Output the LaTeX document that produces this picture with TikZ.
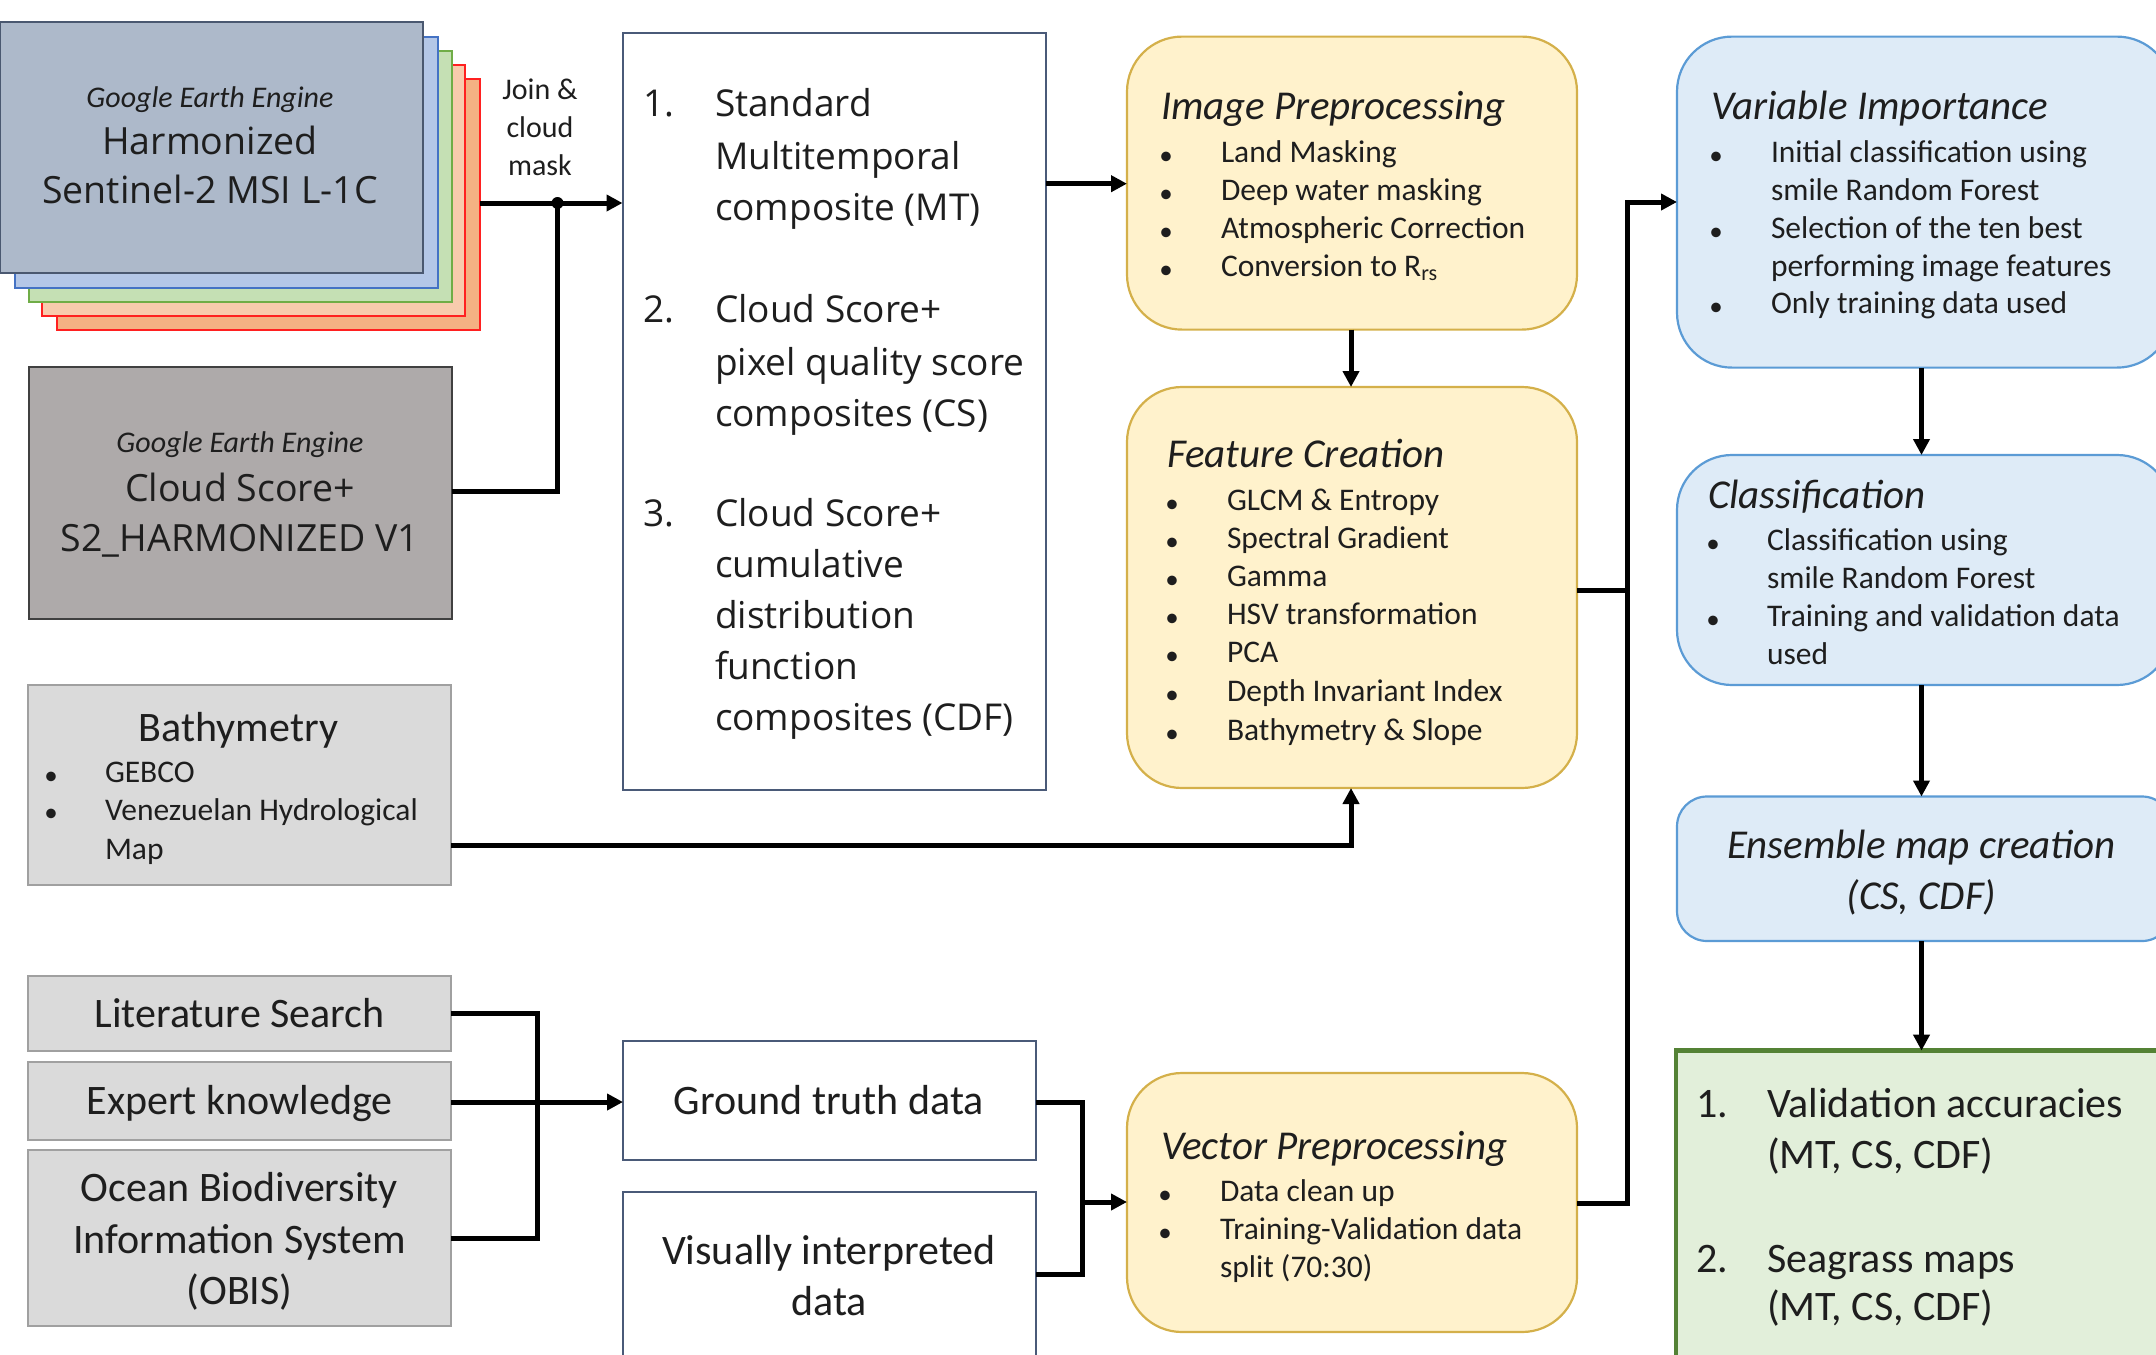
\documentclass[tikz,border=0pt]{standalone}
\usepackage{fontspec}
\setmainfont{Carlito}
\newfontfamily\osans{Open Sans}
\usetikzlibrary{arrows.meta}
\definecolor{ink}{HTML}{1E1E1E}
\definecolor{sttop}{HTML}{ADB9CA}\definecolor{sttopd}{HTML}{4A5870}
\definecolor{lblue}{HTML}{B4C7E7}\definecolor{lblued}{HTML}{4472C4}
\definecolor{lgreen}{HTML}{C5E0B4}\definecolor{lgreend}{HTML}{70AD47}
\definecolor{lpeach}{HTML}{F8CBAD}\definecolor{lorange}{HTML}{F4B183}\definecolor{lred}{HTML}{FF2020}
\definecolor{cloudf}{HTML}{AEAAAA}\definecolor{cloudd}{HTML}{404040}
\definecolor{grayf}{HTML}{DADADA}\definecolor{grayd}{HTML}{A0A0A0}
\definecolor{whited}{HTML}{4A5A78}
\definecolor{yelf}{HTML}{FFF2CC}\definecolor{yeld}{HTML}{D4B04A}
\definecolor{bluef}{HTML}{DEEBF7}\definecolor{blued}{HTML}{5B9BD5}
\definecolor{grnf}{HTML}{E2EFDA}\definecolor{grnd}{HTML}{548235}
\begin{document}
\begin{tikzpicture}[x=1pt,y=-1pt,
  box/.style={inner sep=0pt,outer sep=0pt,anchor=north west,line width=2pt},
  rbox/.style={box,rounded corners=55pt,line width=2.2pt},
  txt/.style={inner sep=0pt,outer sep=0pt,text=ink},
  ftitle/.style={font=\fontsize{41}{50}\selectfont\itshape,text height=28.7pt,text depth=4.1pt},
  flist/.style={font=\fontsize{31.5}{38}\selectfont,text height=22pt,text depth=3.1pt},
  fbul/.style={font=\fontsize{27}{27}\selectfont,text height=23pt,text depth=1pt},
  fbig/.style={font=\fontsize{42}{51}\selectfont,text height=29.4pt,text depth=4.2pt},
  fos/.style={font=\osans\fontsize{37}{51}\selectfont,text height=30pt,text depth=2pt},
  fosb/.style={font=\osans\fontsize{37.5}{51}\selectfont,text height=30pt,text depth=2.6pt},
  fgee/.style={font=\fontsize{30}{38}\selectfont\itshape,text height=21pt,text depth=3pt},
  fjoin/.style={font=\fontsize{30}{38}\selectfont,text height=21pt,text depth=3pt},
  conn/.style={line width=5pt,draw=black},
  arr/.style={conn,-{Triangle[length=16pt,width=16pt]}}
]
\useasboundingbox (0,0) rectangle (2156,1355);
\clip (0,0) rectangle (2156,1355);

% ---------- Sentinel-2 stack ----------
\node[box,fill=lorange,draw=lred,minimum width=423pt,minimum height=251pt] (l4) at (56.5,78.8) {};
\node[box,fill=lpeach,draw=lred,minimum width=423pt,minimum height=251pt] (l3) at (42.3,64.5) {};
\node[box,fill=lgreen,draw=lgreend,minimum width=423pt,minimum height=251pt] (l2) at (28.5,51) {};
\node[box,fill=lblue,draw=lblued,minimum width=423pt,minimum height=251pt] (l1) at (14.6,36.7) {};
\node[box,fill=sttop,draw=sttopd,minimum width=423pt,minimum height=251pt] (s2) at (0,22) {};
\node[txt,fgee] (s2a) at (210,98) {Google Earth Engine};
\node[txt,fosb] (s2b) at (210,141) {Harmonized};
\node[txt,fosb] (s2c) at (210,190) {Sentinel-2 MSI L-1C};

% ---------- Cloud Score+ ----------
\node[box,fill=cloudf,draw=cloudd,minimum width=423pt,minimum height=252pt] (cs) at (28.5,367) {};
\node[txt,fgee] (csa) at (240,443) {Google Earth Engine};
\node[txt,fosb] (csb) at (240,488) {Cloud Score+};
\node[txt,fosb] (csc) at (240,538) {S2\_HARMONIZED V1};

% join label
\node[txt,fjoin] (j1) at (540,90.6) {Join \&};
\node[txt,fjoin] (j2) at (540,128.6) {cloud};
\node[txt,fjoin] (j3) at (540,166.5) {mask};

% ---------- composites box ----------
\node[box,draw=whited,fill=white,minimum width=423pt,minimum height=757pt] (mt) at (622.5,33) {};
\foreach \n/\y/\t in {1/102/{1.},2/308.7/{2.},3/512.8/{3.}}{
  \node[txt,fos,anchor=west] (mtn\n) at (643.6,\y) {\t};}
\foreach \n/\y/\t in {1/102/{Standard},2/155.6/{Multitemporal},3/206.6/{composite (MT)},
  4/308.7/{Cloud Score+},5/361/{pixel quality score},6/412/{composites (CS)},
  7/512.8/{Cloud Score+},8/563.8/{cumulative},9/614.8/{distribution},10/665.8/{function},11/716.8/{composites (CDF)}}{
  \node[txt,fos,anchor=west] (mtt\n) at (715,\y) {\t};}

% ---------- Image preprocessing ----------
\node[rbox,fill=yelf,draw=yeld,minimum width=450pt,minimum height=293pt] (ip) at (1127,36.6) {};
\node[txt,ftitle,anchor=west] (ipt) at (1161,107) {Image Preprocessing};
\foreach \n/\y/\t in {1/153/{Land Masking},2/191/{Deep water masking},3/229/{Atmospheric Correction},4/267/{Conversion to R\textsubscript{rs}}}{
  \node[txt,fbul] (ipb\n) at (1166,\y) {•};
  \node[txt,flist,anchor=west] (ipl\n) at (1221,\y) {\t};}

% ---------- Feature creation ----------
\node[rbox,fill=yelf,draw=yeld,minimum width=450pt,minimum height=401pt] (fc) at (1127,387) {};
\node[txt,ftitle,anchor=west] (fct) at (1167,455) {Feature Creation};
\foreach \n/\y/\t in {1/501/{GLCM \& Entropy},2/539/{Spectral Gradient},3/577/{Gamma},4/615/{HSV transformation},5/653/{PCA},6/692/{Depth Invariant Index},7/731/{Bathymetry \& Slope}}{
  \node[txt,fbul] (fcb\n) at (1172,\y) {•};
  \node[txt,flist,anchor=west] (fcl\n) at (1227,\y) {\t};}

% ---------- Bathymetry ----------
\node[box,fill=grayf,draw=grayd,minimum width=423pt,minimum height=200pt] (ba) at (28,685) {};
\node[txt,fbig] (bat) at (238.5,728.7) {Bathymetry};
\node[txt,fbul] (bab1) at (51,773) {•};
\node[txt,fbul] (bab2) at (51,810.7) {•};
\node[txt,flist,anchor=west] (bal1) at (105,773) {GEBCO};
\node[txt,flist,anchor=west] (bal2) at (105,810.7) {Venezuelan Hydrological};
\node[txt,flist,anchor=west] (bal3) at (105,849.7) {Map};

% ---------- ground truth sources ----------
\node[box,fill=grayf,draw=grayd,minimum width=423pt,minimum height=75.4pt] (lit) at (28,975.6) {};
\node[txt,fbig] (litt) at (239.5,1014.6) {Literature Search};
\node[box,fill=grayf,draw=grayd,minimum width=423pt,minimum height=77.6pt] (exp) at (28,1062) {};
\node[txt,fbig] (expt) at (239.5,1102) {Expert knowledge};
\node[box,fill=grayf,draw=grayd,minimum width=423pt,minimum height=176.2pt] (obis) at (28,1149.8) {};
\node[txt,fbig] (obis1) at (239.5,1188.8) {Ocean Biodiversity};
\node[txt,fbig] (obis2) at (239.5,1240.7) {Information System};
\node[txt,fbig] (obis3) at (239.5,1291.6) {(OBIS)};

\node[box,draw=whited,fill=white,minimum width=412.5pt,minimum height=118.5pt] (gt) at (623,1041) {};
\node[txt,fbig] (gtt) at (829,1102) {Ground truth data};
\node[box,draw=whited,fill=white,minimum width=412.5pt,minimum height=190pt] (vis) at (623,1192) {};
\node[txt,fbig] (vis1) at (829,1251.7) {Visually interpreted};
\node[txt,fbig] (vis2) at (829,1302.7) {data};

% ---------- Vector preprocessing ----------
\node[rbox,fill=yelf,draw=yeld,minimum width=450pt,minimum height=259pt] (vp) at (1127,1073) {};
\node[txt,ftitle,anchor=west] (vpt) at (1161,1147) {Vector Preprocessing};
\node[txt,fbul] (vpb1) at (1165,1192) {•};
\node[txt,fbul] (vpb2) at (1165,1230) {•};
\node[txt,flist,anchor=west] (vpl1) at (1220,1192) {Data clean up};
\node[txt,flist,anchor=west] (vpl2) at (1220,1230) {Training-Validation data};
\node[txt,flist,anchor=west] (vpl3) at (1220,1268) {split (70:30)};

% ---------- right column ----------
\node[rbox,fill=bluef,draw=blued,minimum width=495pt,minimum height=331pt] (vi) at (1677,36.6) {};
\node[txt,ftitle,anchor=west] (vit) at (1711,107) {Variable Importance};
\node[txt,fbul] (vib1) at (1716,153) {•};
\node[txt,fbul] (vib2) at (1716,229) {•};
\node[txt,fbul] (vib3) at (1716,304) {•};
\foreach \n/\y/\t in {1/153/{Initial classification using},2/191/{smile Random Forest},3/229/{Selection of the ten best},4/267/{performing image features},5/304/{Only training data used}}{
  \node[txt,flist,anchor=west] (vil\n) at (1771,\y) {\t};}

\node[rbox,fill=bluef,draw=blued,minimum width=495pt,minimum height=230pt] (cl) at (1677,455) {};
\node[txt,ftitle,anchor=west] (clt) at (1708,496) {Classification};
\node[txt,fbul] (clb1) at (1713,541) {•};
\node[txt,fbul] (clb2) at (1713,617) {•};
\foreach \n/\y/\t in {1/541/{Classification using},2/579/{smile Random Forest},3/617/{Training and validation data},4/655/{used}}{
  \node[txt,flist,anchor=west] (cll\n) at (1767,\y) {\t};}

\node[rbox,rounded corners=30pt,fill=bluef,draw=blued,minimum width=495pt,minimum height=144.5pt] (en) at (1677,796.5) {};
\node[txt,ftitle] (en1) at (1921.5,846) {Ensemble map creation};
\node[txt,ftitle] (en2) at (1921.5,897) {(CS, CDF)};

\node[box,fill=grnf,draw=grnd,line width=4.5pt,minimum width=500pt,minimum height=330pt] (out) at (1676,1050.6) {};
\node[txt,fbig,anchor=west] (outn1) at (1696,1104.5) {1.};
\node[txt,fbig,anchor=west] (outn2) at (1696,1260) {2.};
\node[txt,fbig,anchor=west] (outl1) at (1767,1104.5) {Validation accuracies};
\node[txt,fbig,anchor=west] (outl2) at (1767,1156) {(MT, CS, CDF)};
\node[txt,fbig,anchor=west] (outl3) at (1767,1260) {Seagrass maps};
\node[txt,fbig,anchor=west] (outl4) at (1767,1308) {(MT, CS, CDF)};

% ---------- connectors ----------
\coordinate (jn) at (557.5,203);
\coordinate (jc) at (557.5,491);
\draw[arr] (l4.east |- jn) -- (mt.west |- jn);
\draw[conn] (cs.east |- jc) -- (jc) -- (jn);
\fill (jn) circle (6pt);

\draw[arr] (mt.east |- 0,183.7) -- (ip.west |- 0,183.7);
\draw[arr] (ip.south -| 1351,0) -- (fc.north -| 1351,0);

\coordinate (bj) at (1351,845);
\draw[arr] (ba.east |- bj) -- (bj) -- (fc.south -| bj);

\coordinate (lj1) at (537,1013);
\coordinate (lj2) at (537,1238.5);
\draw[conn] (lit.east |- lj1) -- (lj1) -- (lj2) -- (obis.east |- lj2);
\draw[arr] (exp.east |- 0,1102) -- (gt.west |- 0,1102);

\coordinate (gj1) at (1082.5,1102);
\coordinate (gj2) at (1082.5,1274);
\draw[conn] (gt.east |- gj1) -- (gj1) -- (gj2) -- (vis.east |- gj2);
\draw[arr] (1082.5,1202) -- (vp.west |- 0,1202);

\coordinate (rj1) at (1627,1203.5);
\coordinate (rj2) at (1627,202);
\draw[arr] (vp.east |- rj1) -- (rj1) -- (rj2) -- (vi.west |- rj2);
\draw[conn] (fc.east |- 0,590) -- (1627,590);

\draw[arr] (vi.south -| 1921.5,0) -- (cl.north -| 1921.5,0);
\draw[arr] (cl.south -| 1921.5,0) -- (en.north -| 1921.5,0);
\draw[arr] (en.south -| 1921.5,0) -- (out.north -| 1921.5,0);
\end{tikzpicture}
\end{document}
